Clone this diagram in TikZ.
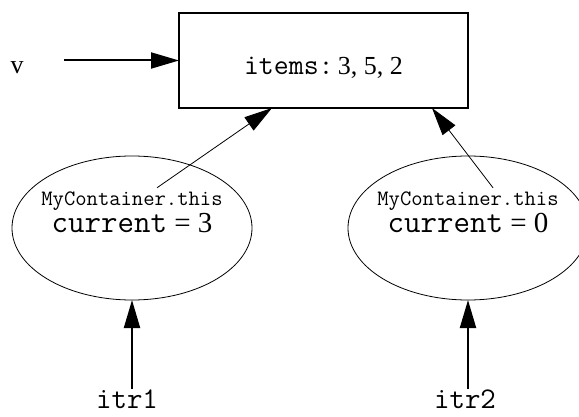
\documentclass[tikz,border=0pt]{standalone}
\usepackage{fontspec}
\setmainfont{Liberation Serif}
\usetikzlibrary{positioning}
\usetikzlibrary{arrows.meta}
\usetikzlibrary{shapes.geometric}

\begin{document}
\begin{tikzpicture}[x=1pt,y=1pt,>={Triangle[length=28pt,width=16pt]},
	iterobj/.style={ellipse,draw=black,line width=.8pt,minimum width=240pt,minimum height=144pt,outer sep=0pt},
	reftext/.style={anchor=base,font=\ttfamily\fontsize{22}{22}\selectfont},
	curtext/.style={anchor=base,font=\fontsize{29}{29}\selectfont},
	varname/.style={anchor=base,inner sep=0pt,font=\ttfamily\fontsize{30}{30}\selectfont}]
	\useasboundingbox (0,0) rectangle (579,416);

	\node [minimum width=289pt,minimum height=95pt,outer sep=0pt,draw=black,line width=2pt,text height=29pt,text depth=0pt,font=\fontsize{26}{26}\selectfont] at (323.5,355.5) (items) {\texttt{\fontsize{29}{29}\selectfont items:}\,3, 5, 2};
	\node [anchor=base,font=\fontsize{26}{26}\selectfont] at (17,342.5) (v) {v};

	\node [iterobj] at (132,188) (iter1) {};
	\node [reftext] at ([yshift=23pt]iter1.center) (outer1) {MyContainer.this};
	\node [curtext] at ([yshift=-4pt]iter1.center) (cur1) {\texttt{\fontsize{32}{32}\selectfont current} = 3};

	\node [iterobj] at (468,188) (iter2) {};
	\node [reftext] at ([yshift=23pt]iter2.center) (outer2) {MyContainer.this};
	\node [curtext] at ([yshift=-4pt]iter2.center) (cur2) {\texttt{\fontsize{32}{32}\selectfont current} = 0};

	\node [varname] at (127,8) (itr1) {itr1};
	\node [varname] at (465,8) (itr2) {itr2};

	\draw [->,line width=2pt,shorten <=37pt] (v.east |- items.west) -- (items.west);
	\draw [->,line width=.8pt] ([xshift=25pt]outer1.north) -- ([xshift=-51.5pt]items.south);
	\draw [->,line width=.8pt] ([xshift=25pt]outer2.north) -- ([xshift=108.5pt]items.south);
	\draw [->,line width=2pt] (iter1.south |- itr1.north) -- (iter1.south);
	\draw [->,line width=2pt] (iter2.south |- itr2.north) -- (iter2.south);
\end{tikzpicture}
\end{document}
